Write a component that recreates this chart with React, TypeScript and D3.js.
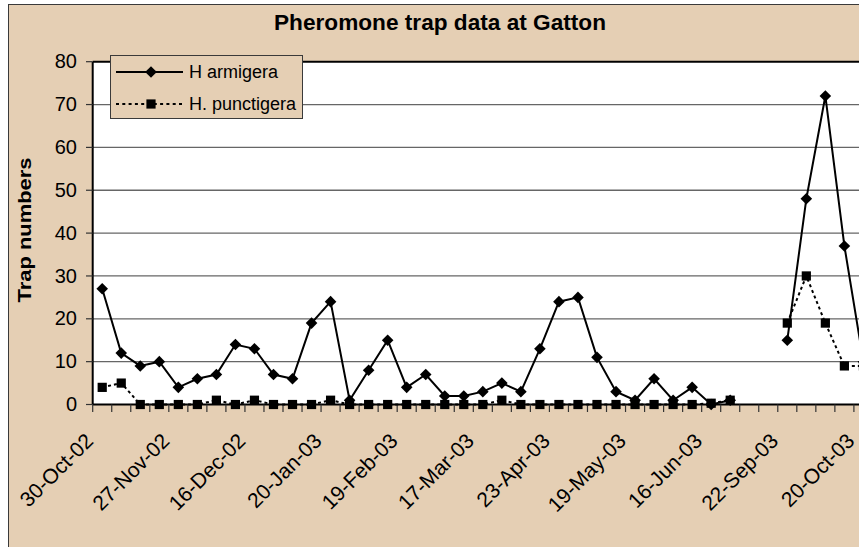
import React from "react";
import * as d3 from "d3";

const TITLE = "Pheromone trap data at Gatton";
const Y_TITLE = "Trap numbers";
const SERIES_NAMES = ["H armigera", "H. punctigera"];

// one value per sampling date (category); null = no trapping
const harmigera: (number | null)[] = [
  27, 12, 9, 10, 4, 6, 7, 14, 13, 7, 6, 19, 24, 1, 8, 15, 4, 7, 2, 2, 3, 5, 3,
  13, 24, 25, 11, 3, 1, 6, 1, 4, 0, 1, null, null, 15, 48, 72, 37, 10,
];
const punctigera: (number | null)[] = [
  4, 5, 0, 0, 0, 0, 1, 0, 1, 0, 0, 0, 1, 0, 0, 0, 0, 0, 0, 0, 0, 1, 0, 0, 0, 0,
  0, 0, 0, 0, 0, 0, 0.3, 1, null, null, 19, 30, 19, 9, 9,
];
// labels shown every 4th category
const tickLabels = [
  "30-Oct-02",
  "27-Nov-02",
  "16-Dec-02",
  "20-Jan-03",
  "19-Feb-03",
  "17-Mar-03",
  "23-Apr-03",
  "19-May-03",
  "16-Jun-03",
  "22-Sep-03",
  "20-Oct-03",
];
const LABEL_EVERY = 4;
const yTicks = [0, 10, 20, 30, 40, 50, 60, 70, 80];

const BG = "#E5CFB4";
const FONT = "'Liberation Sans', Arial, Helvetica, sans-serif";

function diamond(x: number, y: number, r: number) {
  return `M${x},${y - r}L${x + r},${y}L${x},${y + r}L${x - r},${y}Z`;
}

export default function App() {
  const W = 859;
  const H = 547;
  const n = harmigera.length;
  const plotLeft = 92.7;
  const plotTop = 61.7;
  const plotBottom = 404.5;
  const bandW = 19.03;
  const plotRight = plotLeft + bandW * n;

  const x = d3
    .scaleBand<number>()
    .domain(d3.range(n))
    .range([plotLeft, plotRight])
    .padding(0);
  const y = d3.scaleLinear().domain([0, 80]).range([plotBottom, plotTop]);
  const cx = (i: number) => (x(i) as number) + x.bandwidth() / 2;

  const line = d3
    .line<number | null>()
    .defined((d) => d != null)
    .x((_, i) => cx(i))
    .y((d) => y(d as number));

  const DR = 5.8; // diamond half-size
  const SQ = 9.2; // square side

  const legendX = 110;
  const legendY = 55;
  const rows = [72, 104];

  return (
    <svg
      width={W}
      height={H}
      style={{ position: "absolute", left: 0, top: 0, display: "block" }}
      fontFamily={FONT}
    >
      <rect x={0} y={0} width={W} height={H} fill="#fff" />
      {/* chart area */}
      <rect x={8.5} y={4.5} width={1000} height={1000} fill={BG} stroke="#3a3a3a" strokeWidth={1} />

      {/* title */}
      <text
        x={440}
        y={30}
        textAnchor="middle"
        fontSize={22}
        fontWeight="bold"
        textLength={332}
        lengthAdjust="spacingAndGlyphs"
        fill="#000"
      >
        {TITLE}
      </text>

      {/* plot area */}
      <rect x={plotLeft} y={plotTop} width={plotRight - plotLeft} height={plotBottom - plotTop} fill="#fff" />

      {/* gridlines */}
      {yTicks
        .filter((t) => t > 0 && t < 80)
        .map((t) => (
          <line key={"g" + t} x1={plotLeft} x2={plotRight} y1={y(t)} y2={y(t)} stroke="#666" strokeWidth={1.3} />
        ))}

      {/* plot border / axes */}
      <line x1={plotLeft} x2={plotRight} y1={plotTop} y2={plotTop} stroke="#000" strokeWidth={2} />
      <line x1={plotLeft} x2={plotLeft} y1={plotTop} y2={plotBottom} stroke="#000" strokeWidth={2} />
      <line x1={plotLeft} x2={plotRight} y1={plotBottom} y2={plotBottom} stroke="#000" strokeWidth={2} />

      {/* y ticks and labels */}
      {yTicks.map((t) => (
        <g key={"y" + t}>
          <line x1={86} x2={plotLeft} y1={y(t)} y2={y(t)} stroke="#333" strokeWidth={1.2} />
          <text x={77} y={y(t)} dy="0.33em" textAnchor="end" fontSize={20} fill="#000">
            {t}
          </text>
        </g>
      ))}

      {/* x ticks */}
      {d3.range(n + 1).map((k) => {
        const xx = plotLeft + bandW * k;
        return <line key={"xt" + k} x1={xx} x2={xx} y1={plotBottom} y2={plotBottom + 7.5} stroke="#333" strokeWidth={1.2} />;
      })}

      {/* x labels */}
      {tickLabels.map((lab, j) => {
        const i = j * LABEL_EVERY;
        const ax = cx(i) - 13;
        const ay = 437;
        return (
          <text
            key={"xl" + j}
            x={ax}
            y={ay}
            dy="0.36em"
            textAnchor="end"
            fontSize={21}
            fill="#000"
            transform={`rotate(-45 ${ax} ${ay})`}
          >
            {lab}
          </text>
        );
      })}

      {/* y axis title */}
      <text
        transform="rotate(-90)"
        x={-230}
        y={31}
        textAnchor="middle"
        fontSize={19}
        fontWeight="bold"
        textLength={145}
        lengthAdjust="spacingAndGlyphs"
        fill="#000"
      >
        {Y_TITLE}
      </text>

      {/* series lines */}
      <path d={line(punctigera) || ""} fill="none" stroke="#000" strokeWidth={2} strokeDasharray="3 3" />
      <path d={line(harmigera) || ""} fill="none" stroke="#000" strokeWidth={2} />

      {/* markers */}
      {punctigera.map((v, i) =>
        v == null ? null : (
          <rect key={"p" + i} x={cx(i) - SQ / 2} y={y(v) - SQ / 2} width={SQ} height={SQ} fill="#000" />
        )
      )}
      {harmigera.map((v, i) =>
        v == null ? null : <path key={"h" + i} d={diamond(cx(i), y(v), DR)} fill="#000" />
      )}

      {/* legend */}
      <rect x={legendX + 0.5} y={legendY + 0.5} width={192} height={63} fill={BG} stroke="#3a3a3a" strokeWidth={1} />
      <line x1={116} x2={183} y1={rows[0]} y2={rows[0]} stroke="#000" strokeWidth={2} />
      <path d={diamond(151, rows[0], DR)} fill="#000" />
      <text x={189} y={rows[0]} dy="0.35em" fontSize={18} fill="#000">
        {SERIES_NAMES[0]}
      </text>
      <line x1={116} x2={183} y1={rows[1]} y2={rows[1]} stroke="#000" strokeWidth={2} strokeDasharray="3 3.3" />
      <rect x={151 - SQ / 2} y={rows[1] - SQ / 2} width={SQ} height={SQ} fill="#000" />
      <text x={189} y={rows[1]} dy="0.35em" fontSize={18} fill="#000">
        {SERIES_NAMES[1]}
      </text>
    </svg>
  );
}
